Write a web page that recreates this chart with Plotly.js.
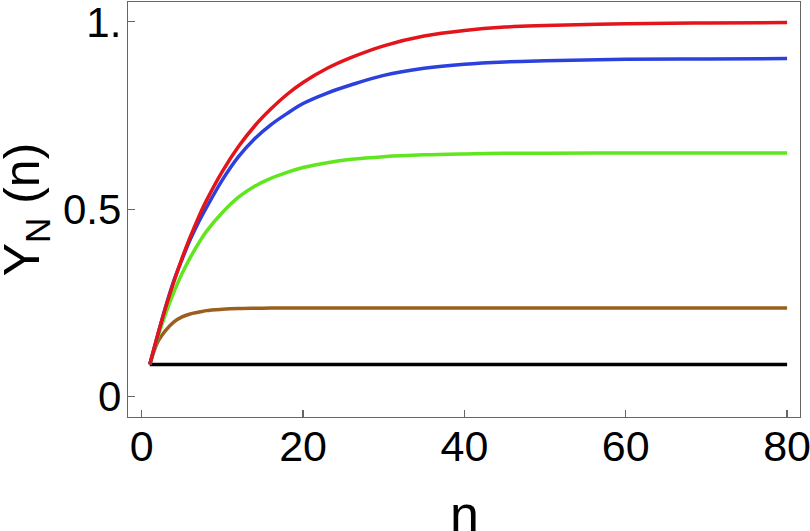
<!DOCTYPE html>
<html>
<head>
<meta charset="utf-8">
<script src="https://cdn.plot.ly/plotly-3.0.1.min.js"></script>
<style>html,body{margin:0;padding:0;background:#fff;}#chart{width:810px;height:531px;}</style>
</head>
<body>
<div id="chart"></div>
<script>
const n = [1,2,3,4,5,6,7,8,10,12,14,16,18,20,23,26,30,35,40,45,50,60,70,80];
const redY   = [0.085,0.166,0.240,0.307,0.369,0.425,0.476,0.522,0.601,0.667,0.722,0.767,0.806,0.838,0.876,0.905,0.936,0.962,0.977,0.986,0.990,0.995,0.997,0.998];
const blueY  = [0.085,0.165,0.242,0.310,0.366,0.418,0.463,0.503,0.578,0.640,0.688,0.725,0.755,0.782,0.810,0.832,0.857,0.876,0.887,0.893,0.896,0.900,0.901,0.902];
const greenY = [0.085,0.159,0.223,0.279,0.328,0.370,0.407,0.440,0.491,0.532,0.561,0.582,0.598,0.611,0.624,0.633,0.640,0.645,0.6475,0.649,0.6495,0.650,0.650,0.650];
const brownY = [0.085,0.146,0.177,0.199,0.2125,0.220,0.2245,0.229,0.2325,0.2345,0.2353,0.2357,0.2359,0.236,0.236,0.236,0.236,0.236,0.236,0.236,0.236,0.236,0.236,0.236];
const blackY = [0.085,0.085,0.085,0.085,0.085,0.085,0.085,0.085,0.085,0.085,0.085,0.085,0.085,0.085,0.085,0.085,0.085,0.085,0.085,0.085,0.085,0.085,0.085,0.085];
const xTicks = [0,20,40,60,80];
const xTickText = ["0","20","40","60","80"];
const yTicks = [0,0.5,1];
const yTickText = ["0","0.5","1."];
const xTitle = "n";
const yTitle = "Y<sub>N</sub> (n)";

const series = [
  {y: blackY, color: "#000000"},
  {y: brownY, color: "#9a5e1e"},
  {y: greenY, color: "#5fe61e"},
  {y: blueY,  color: "#2b40dc"},
  {y: redY,   color: "#e3141a"}
];
const traces = series.map(s => ({
  x: n, y: s.y, type: "scatter", mode: "lines",
  line: {color: s.color, width: 3.5, shape: "spline", smoothing: 1},
  hoverinfo: "none", showlegend: false
}));

const ff = "Liberation Sans, Arial, sans-serif";
const layout = {
  width: 810, height: 531,
  margin: {l: 128, r: 10, t: 2, b: 114},
  paper_bgcolor: "#fff", plot_bgcolor: "#fff",
  font: {family: ff, color: "#000"},
  xaxis: {
    range: [-1.7, 81.6], showgrid: false, zeroline: false,
    showline: true, mirror: true, linecolor: "#666", linewidth: 1.2,
    ticks: "inside", ticklen: 7, tickcolor: "#666", tickwidth: 1.2,
    tickvals: xTicks, ticktext: xTickText,
    tickfont: {size: 43, family: ff, color: "#000"},
    ticklabelstandoff: -9, ticklabeloverflow: "allow"
  },
  yaxis: {
    range: [-0.055, 1.053], showgrid: false, zeroline: false,
    showline: true, mirror: true, linecolor: "#666", linewidth: 1.2,
    ticks: "inside", ticklen: 7, tickcolor: "#666", tickwidth: 1.2,
    tickvals: yTicks, ticktext: yTickText,
    tickfont: {size: 42, family: ff, color: "#000"},
    ticklabelstandoff: -3, ticklabeloverflow: "allow"
  },
  annotations: [
    {text: xTitle, xref: "paper", yref: "paper", x: 0.5, y: -0.16,
     xanchor: "center", yanchor: "top", showarrow: false,
     font: {size: 52, family: ff, color: "#000"}},
    {text: yTitle, xref: "paper", yref: "paper", x: -0.152, y: 0.5,
     xanchor: "center", yanchor: "middle", textangle: -90, showarrow: false,
     font: {size: 50, family: ff, color: "#000"}}
  ]
};
Plotly.newPlot("chart", traces, layout, {staticPlot: true, displayModeBar: false});
</script>
</body>
</html>
